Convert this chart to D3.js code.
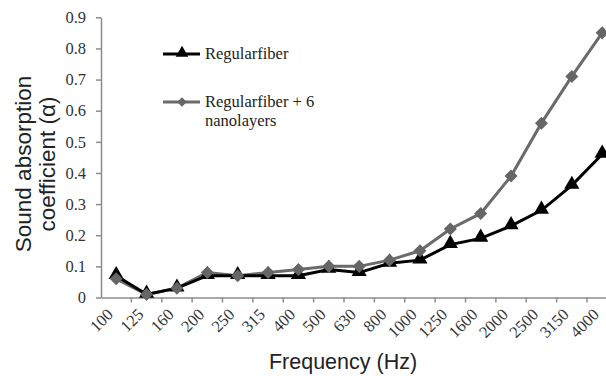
<!DOCTYPE html>
<html><head><meta charset="utf-8">
<script src="https://cdn.jsdelivr.net/npm/d3@7"></script>
<style>body{margin:0;background:#fff}svg{display:block}</style>
</head><body>
<svg id="c" width="606" height="376"></svg>
<script>
const categories = ["100","125","160","200","250","315","400","500","630","800","1000","1250","1600","2000","2500","3150","4000"];
const regular = [0.07,0.01,0.03,0.07,0.07,0.07,0.07,0.09,0.08,0.11,0.12,0.17,0.19,0.23,0.28,0.36,0.46];
const nano = [0.06,0.01,0.03,0.08,0.07,0.08,0.09,0.10,0.10,0.12,0.15,0.22,0.27,0.39,0.56,0.71,0.85];
const yTicks = [0,0.1,0.2,0.3,0.4,0.5,0.6,0.7,0.8,0.9];
const seriesNames = ["Regularfiber","Regularfiber + 6", "nanolayers"];

const svg = d3.select("#c");
const x0 = 101, step = 30.375;
const x = d3.scaleBand().domain(categories).range([x0, x0 + step*categories.length]).padding(0);
const y = d3.scaleLinear().domain([0,0.9]).range([297.5,17.3]);
const axisColor = "#8c8c8c";

// y axis
const ya = svg.append("g").attr("transform",`translate(${x0},0)`)
  .call(d3.axisLeft(y).tickValues(yTicks).tickSize(5).tickSizeOuter(0).tickFormat(d=> d===0?"0":d3.format(".1f")(d)));
ya.select(".domain").attr("stroke",axisColor).attr("stroke-width",1.5);
ya.selectAll(".tick line").attr("stroke",axisColor).attr("stroke-width",1.5);
ya.selectAll(".tick text").attr("font-family","Liberation Serif").attr("font-size",16.5).attr("fill","#333").attr("x",-15);

// x axis
const xa = svg.append("g").attr("transform",`translate(0,${y(0)})`)
  .call(d3.axisBottom(x).tickSize(0).tickSizeOuter(0));
xa.select(".domain").attr("stroke",axisColor).attr("stroke-width",1.5);
xa.selectAll(".tick line").remove();
svg.append("g").selectAll("line").data(categories).join("line")
  .attr("x1",(d,i)=>x(d)+step).attr("x2",(d,i)=>x(d)+step)
  .attr("y1",y(0)).attr("y2",y(0)+5).attr("stroke",axisColor).attr("stroke-width",1.5);
xa.selectAll(".tick text")
  .attr("font-family","Liberation Serif").attr("font-size",16.5).attr("fill","#333")
  .attr("text-anchor","end").attr("dy",0).attr("y",0)
  .attr("transform","translate(-2,18) rotate(-45)");

// lines
const line = d3.line().x((d,i)=>x(categories[i])+x.bandwidth()/2).y(d=>y(d));
svg.append("path").datum(nano).attr("d",line).attr("fill","none").attr("stroke","#6b6b6b").attr("stroke-width",3);
svg.append("path").datum(regular).attr("d",line).attr("fill","none").attr("stroke","#000").attr("stroke-width",3);

const tri = d3.symbol().type(d3.symbolTriangle).size(100);
const dia = d3.symbol().type(d3.symbolSquare).size(85);
svg.append("g").selectAll("path").data(regular).join("path")
  .attr("d",tri).attr("fill","#000")
  .attr("transform",(d,i)=>`translate(${x(categories[i])+x.bandwidth()/2},${y(d)-1})`);
svg.append("g").selectAll("path").data(nano).join("path")
  .attr("d",dia).attr("fill","#666")
  .attr("transform",(d,i)=>`translate(${x(categories[i])+x.bandwidth()/2},${y(d)}) rotate(45)`);

// legend
const lg = svg.append("g");
lg.append("line").attr("x1",163).attr("x2",200).attr("y1",54).attr("y2",54).attr("stroke","#000").attr("stroke-width",3);
lg.append("path").attr("d",d3.symbol().type(d3.symbolTriangle).size(70)).attr("fill","#000").attr("transform","translate(182,53)");
lg.append("text").attr("x",205).attr("y",59).text(seriesNames[0]);
lg.append("line").attr("x1",163).attr("x2",200).attr("y1",102).attr("y2",102).attr("stroke","#6b6b6b").attr("stroke-width",3);
lg.append("path").attr("d",d3.symbol().type(d3.symbolSquare).size(45)).attr("fill","#666").attr("transform","translate(182,102) rotate(45)");
lg.append("text").attr("x",205).attr("y",107).text(seriesNames[1]);
lg.append("text").attr("x",205).attr("y",126).text(seriesNames[2]);
lg.selectAll("text").attr("font-family","Liberation Serif").attr("font-size",16.5).attr("fill","#222");

// axis titles
svg.append("text").attr("x",343).attr("y",369).attr("text-anchor","middle")
  .attr("font-family","Liberation Sans").attr("font-size",21.5).attr("fill","#222").text("Frequency (Hz)");
const yt = svg.append("text").attr("transform","translate(0,164) rotate(-90)")
  .attr("text-anchor","middle").attr("font-family","Liberation Sans").attr("font-size",22.5).attr("fill","#222");
yt.append("tspan").attr("x",0).attr("y",31).text("Sound absorption");
yt.append("tspan").attr("x",0).attr("y",55).text("coefficient (α)");
</script>
</body></html>
